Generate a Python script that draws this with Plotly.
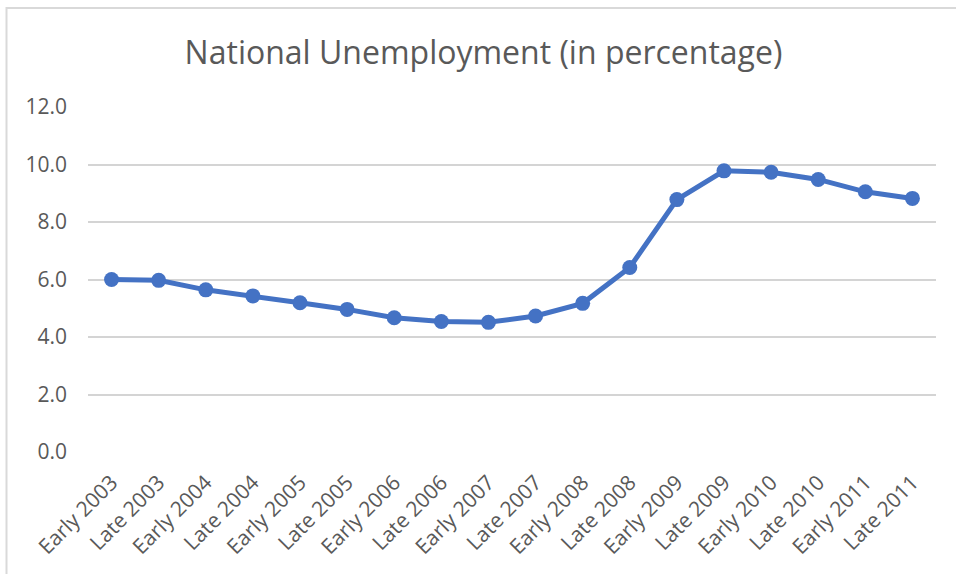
import plotly.graph_objects as go

categories = ["Early 2003", "Late 2003", "Early 2004", "Late 2004", "Early 2005", "Late 2005",
              "Early 2006", "Late 2006", "Early 2007", "Late 2007", "Early 2008", "Late 2008",
              "Early 2009", "Late 2009", "Early 2010", "Late 2010", "Early 2011", "Late 2011"]
unemployment = [6.0, 5.97, 5.64, 5.43, 5.19, 4.96, 4.67, 4.54, 4.51, 4.73, 5.17, 6.42,
                8.78, 9.78, 9.73, 9.48, 9.05, 8.82]
y_ticks = [0, 2, 4, 6, 8, 10, 12]
title_text = "National Unemployment (in percentage)"

W, H = 956, 574
L, R, T, B = 88, 20, 107, 122
ph = H - T - B
pw = W - L - R

fig = go.Figure()
fig.add_trace(go.Scatter(
    x=categories, y=unemployment, mode="lines+markers",
    line=dict(color="#4472C4", width=5),
    marker=dict(color="#4472C4", size=15),
    showlegend=False,
))

font_family = "Open Sans"
txt = "#595959"

fig.update_layout(
    width=W, height=H,
    margin=dict(l=L, r=R, t=T, b=B, pad=0),
    paper_bgcolor="white", plot_bgcolor="white",
    font=dict(family=font_family, color=txt),
    title=dict(text=title_text, x=483.5 / W, xanchor="center",
               y=1 - 53 / H, yanchor="middle", yref="container",
               font=dict(size=32, color=txt, family=font_family)),
    xaxis=dict(type="category", range=[-0.5, 17.5], showgrid=False, zeroline=False,
               showline=False, ticks="", tickangle=-45,
               tickfont=dict(size=21, color=txt), ticklabelstandoff=13),
    yaxis=dict(range=[0, 12], tickvals=y_ticks, ticktext=[f"{v:.1f}" for v in y_ticks],
               showgrid=True, gridcolor="#D4D4D4", gridwidth=1.6, zeroline=False,
               showline=False, ticks="", tickfont=dict(size=21, color=txt),
               ticklabelstandoff=20),
    shapes=[dict(type="rect", xref="paper", yref="paper",
                 x0=(6.5 - L) / pw, x1=1.2, y0=-0.6, y1=1 + (T - 8) / ph,
                 line=dict(color="#D9D9D9", width=2), fillcolor="rgba(0,0,0,0)",
                 layer="below")],
)

fig.write_html("out.html")
